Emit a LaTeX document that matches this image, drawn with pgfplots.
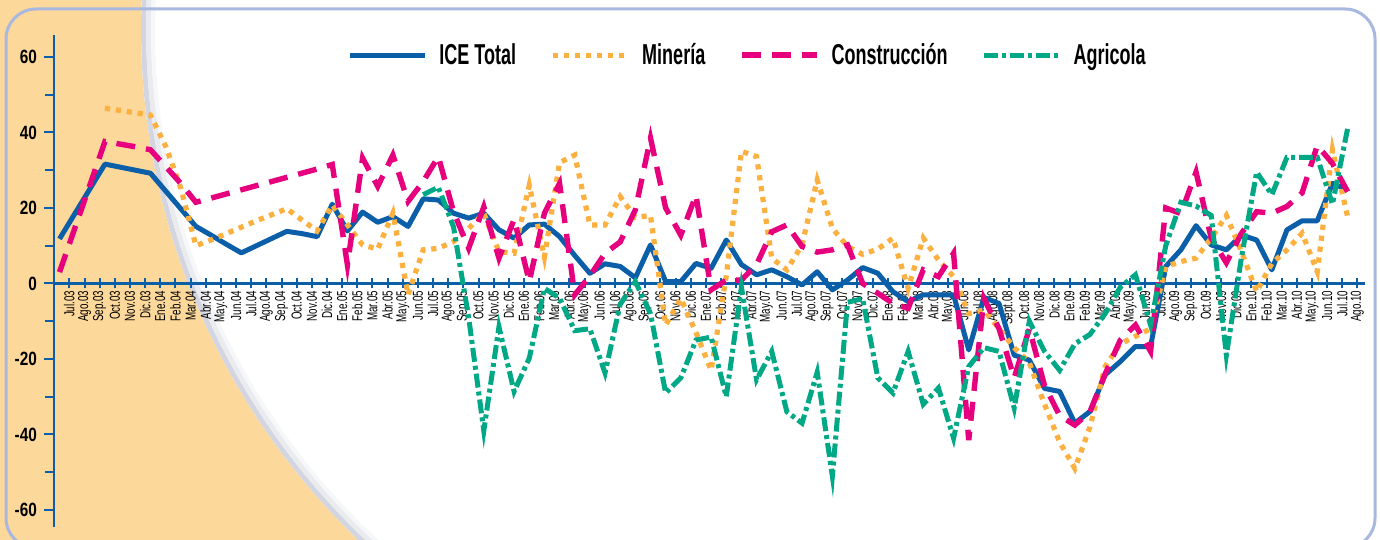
\documentclass[border=0pt]{standalone}
\usepackage{fontspec}
\setmainfont{Liberation Sans}
\newfontfamily\condx{Liberation Sans}[FakeStretch=0.68]
\newfontfamily\condy{Liberation Sans}[FakeStretch=0.80]
\newfontfamily\condl{Liberation Sans}[FakeStretch=0.625]
\usepackage{pgfplots}
\usepackage{pgfplotstable}
\pgfplotsset{compat=1.18}

\definecolor{axisblue}{HTML}{0B5EA8}
\definecolor{icecol}{HTML}{0B5EA8}
\definecolor{mincol}{HTML}{FBB040}
\definecolor{concol}{HTML}{E6007E}
\definecolor{agrcol}{HTML}{00A886}
\definecolor{peach}{HTML}{FDD89B}
\definecolor{bordercol}{HTML}{A8B8DE}
\definecolor{shadowcol}{HTML}{D3D6E0}

% monthly index j: 0 = first point (Jul.03)
\pgfplotstableread{
j ice min con agr
0 11.8 nan 3.0 nan
1 18.4 nan 14.5 nan
2 25.0 nan 26.0 nan
3 31.6 46.4 37.6 nan
4 30.8 45.8 36.9 nan
5 30.0 45.2 36.2 nan
6 29.2 44.6 35.4 nan
7 24.5 36.4 31.0 nan
8 19.8 25.3 26.5 nan
9 15.1 10.0 21.5 nan
10 12.8 11.5 22.6 nan
11 10.4 13.2 23.7 nan
12 8.1 14.9 24.8 nan
13 10.0 16.6 25.9 nan
14 11.9 18.2 27.0 nan
15 13.8 19.8 28.1 nan
16 13.2 16.8 29.2 nan
17 12.4 13.9 30.3 nan
18 21.0 20.8 31.5 nan
19 13.9 15.5 4.9 nan
20 18.9 10.2 33.2 nan
21 16.2 9.1 25.7 nan
22 17.7 18.6 34.0 nan
23 15.1 -3.0 21.7 nan
24 22.4 8.9 27.0 23.5
25 22.1 9.3 33.6 25.5
26 18.6 11.1 19.0 15.0
27 17.3 14.6 9.3 -9.0
28 18.6 18.6 20.3 -39.0
29 14.2 8.4 6.7 -11.5
30 12.0 8.0 17.0 -28.6
31 15.5 26.0 0.5 -19.8
32 15.7 7.0 18.6 -1.3
33 12.4 32.0 26.5 -3.9
34 7.4 34.0 -3.0 -12.5
35 2.7 15.5 2.0 -12.0
36 5.2 15.5 8.0 -23.7
37 4.5 23.0 11.0 -5.5
38 1.5 17.5 19.5 0.5
39 10.2 18.0 38.5 -8.0
40 0.5 -11.0 20.0 -29.0
41 0.5 -4.0 12.8 -25.0
42 5.3 -13.0 23.4 -15.0
43 4.0 -23.0 -1.7 -14.2
44 11.5 2.0 0.9 -30.0
45 5.0 35.0 0.9 -1.0
46 2.3 33.6 5.0 -25.5
47 3.6 6.7 13.7 -18.0
48 1.8 3.6 15.5 -34.0
49 -0.4 10.2 9.8 -37.0
50 3.1 27.4 8.3 -23.5
51 -1.7 14.6 8.9 -51.0
52 0.9 9.8 10.2 -5.0
53 4.2 7.7 0.0 -4.0
54 2.7 9.1 -2.6 -25.0
55 -2.2 12.0 -5.3 -29.0
56 -4.8 -1.3 -6.6 -18.0
57 -3.0 12.0 3.6 -32.0
58 -3.0 6.2 1.8 -27.7
59 -3.0 1.8 8.0 -41.0
60 -17.6 -8.0 -41.5 -22.0
61 -3.7 -7.0 -4.0 -17.0
62 -5.3 -12.0 -12.0 -18.0
63 -19.0 -17.0 -25.0 -33.0
64 -20.3 -21.0 -12.0 -10.0
65 -27.8 -32.0 -27.0 -18.0
66 -28.6 -42.0 -35.0 -23.0
67 -37.0 -49.0 -37.5 -16.0
68 -33.9 -38.0 -34.0 -13.5
69 -24.2 -22.0 -24.0 -8.0
70 -20.7 -16.0 -15.0 -1.0
71 -16.7 -14.0 -11.0 2.3
72 -16.7 -12.0 -18.0 -11.0
73 4.5 4.5 20.0 10.0
74 8.9 5.8 18.5 21.5
75 15.3 6.7 29.5 20.5
76 10.2 12.0 12.0 18.0
77 8.9 18.0 5.5 -19.0
78 12.8 8.4 13.3 7.0
79 11.5 -2.2 19.0 29.5
80 3.6 5.3 18.6 23.5
81 14.2 8.9 20.4 33.4
82 16.6 13.3 24.0 33.4
83 16.6 3.1 36.5 33.4
84 26.5 35.4 31.8 21.0
85 24.8 17.7 24.3 41.0
}\datatable

\begin{document}
\begin{tikzpicture}
\useasboundingbox (0,0) rectangle (690pt,270pt);
\fill[white] (-5pt,-5pt) rectangle (695pt,275pt);
% peach swoosh on the left
\begin{scope}
  \clip (-5pt,-5pt) rectangle (450pt,275pt);
  \fill[peach, even odd rule] (-10pt,-10pt) rectangle (500pt,280pt)
       (425.5pt,255.5pt) circle (355pt);
  \draw[shadowcol, line width=2.5pt] (425.5pt,255.5pt) circle (353.7pt);
  \draw[shadowcol!50, line width=2.5pt] (425.5pt,255.5pt) circle (351.2pt);
  \draw[shadowcol!20, line width=2pt] (425.5pt,255.5pt) circle (349pt);
\end{scope}
\draw[bordercol, line width=1.5pt, rounded corners=15pt] (3pt,-4pt) rectangle (687.5pt,265.5pt);

\begin{axis}[
    scale only axis,
    width=655.5pt, height=246pt,
    at={(27pt,6.5pt)}, anchor=south west,
    xmin=-1.013, xmax=85.5,
    ymin=-64.5, ymax=65.8,
    axis x line=middle, axis y line=left,
    axis line style={-, draw=axisblue, line width=1.4pt},
    hide obscured x ticks=false, hide obscured y ticks=false,
    xtick={0,...,85},
    xticklabels={Jul.03,Ago.03,Sep.03,Oct.03,Nov.03,Dic.03,
      Ene.04,Feb.04,Mar.04,Abr.04,May.04,Jun.04,Jul.04,Ago.04,Sep.04,Oct.04,Nov.04,Dic.04,
      Ene.05,Feb.05,Mar.05,Abr.05,May.05,Jun.05,Jul.05,Ago.05,Sep.05,Oct.05,Nov.05,Dic.05,
      Ene.06,Feb.06,Mar.06,Abr.06,May.06,Jun.06,Jul.06,Ago.06,Sep.06,Oct.06,Nov.06,Dic.06,
      Ene.07,Feb.07,Mar.07,Abr.07,May.07,Jun.07,Jul.07,Ago.07,Sep.07,Oct.07,Nov.07,Dic.07,
      Ene.08,Feb.08,Mar.08,Abr.08,May.08,Jun.08,Jul.08,Ago.08,Sept.08,Oct.08,Nov.08,Dic.08,
      Ene.09,Feb.09,Mar.09,Abr.09,May.09,Jun.09,Jul.09,Ago.09,Sep.09,Oct.09,Nov.09,Dic.09,
      Ene.10,Feb.10,Mar.10,Abr.10,May.10,Jun.10,Jul.10,Ago.10},
    ytick={-60,-40,...,60},
    yticklabels={-60,-40,-20,0,20,40,60},
    minor ytick={-50,-30,...,50},
    tick style={draw=axisblue, line width=1pt},
    major tick length=5pt, minor tick length=4.5pt,
    xtick align=center, ytick align=outside,
    xticklabel style={rotate=90, anchor=east, inner sep=1pt,
      font=\condx\fontsize{7.2}{8}\selectfont},
    yticklabel style={font=\condy\bfseries\fontsize{9.6}{11}\selectfont},
    legend image code/.code={\draw[#1] (0pt,0pt) -- (37.5pt,0pt);},
    legend columns=-1,
    legend style={at={(0.529,0.959)}, anchor=center, draw=none, fill=none,
      font=\condl\bfseries\fontsize{14.4}{17}\selectfont,
      nodes={inner sep=1pt},
      /tikz/every odd column/.append style={column sep=5pt},
      /tikz/every even column/.append style={column sep=16pt}},
]
\addplot[icecol, line width=2.5pt, line join=round]
  table[x expr=\thisrow{j}-0.65, y=ice] {\datatable};
\addlegendentry{ICE Total}
\addplot[mincol, line width=2.6pt, dash pattern=on 2.6pt off 2.9pt]
  table[x expr=\thisrow{j}-0.65, y=min] {\datatable};
\addlegendentry{Minería}
\addplot[concol, line width=2.7pt, dash pattern=on 9.5pt off 5.5pt]
  table[x expr=\thisrow{j}-0.65, y=con] {\datatable};
\addlegendentry{Construcción}
\addplot[agrcol, line width=2.5pt, dash pattern=on 7pt off 2pt on 2pt off 2pt]
  table[x expr=\thisrow{j}-0.65, y=agr] {\datatable};
\addlegendentry{Agricola}
\end{axis}
\end{tikzpicture}
\end{document}
